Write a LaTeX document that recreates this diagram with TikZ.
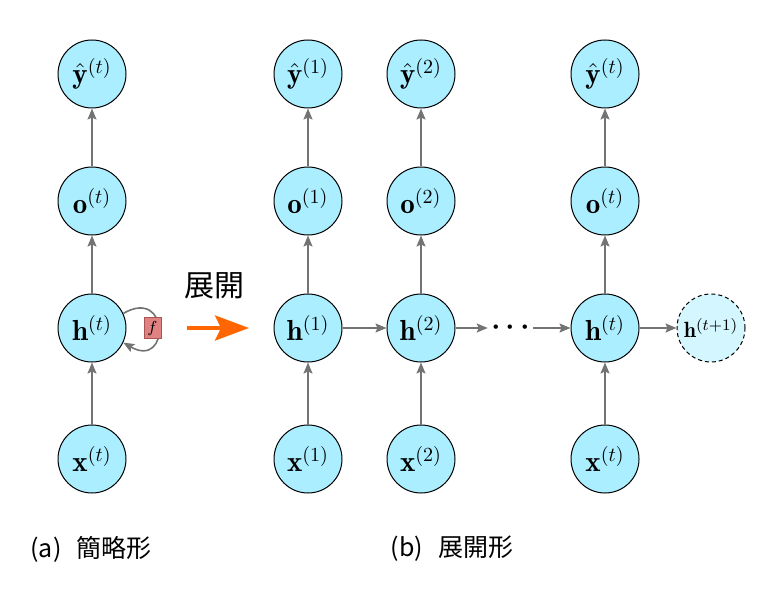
\documentclass[tikz,border=0pt]{standalone}
\usepackage{amsmath,amssymb}
\usepackage{xcolor}
\usepackage{fontspec}
\newfontfamily\jpfont{Noto Sans CJK JP}
\usepackage{tikz}
\usetikzlibrary{arrows.meta, positioning, calc}
\definecolor{cellfill}{RGB}{170, 238, 255}
\definecolor{nextfill}{RGB}{212, 246, 255}
\definecolor{funcfill}{RGB}{224, 130, 130}
\definecolor{funcdraw}{RGB}{170, 85, 85}
\definecolor{connect}{RGB}{115, 115, 115}
\definecolor{unfold}{RGB}{255, 102, 0}

\begin{document}
\begin{tikzpicture}[
    x=0.5pt, y=-0.5pt,
    node distance=29pt,
    cell/.style={circle, draw=black, line width=0.5pt, fill=cellfill, minimum size=34pt, inner sep=0pt, font=\fontsize{14.5}{16}\selectfont},
    next_cell/.style={cell, dash pattern=on 2pt off 1.5pt, fill=nextfill, font=\fontsize{11}{13}\selectfont},
    func_box/.style={rectangle, draw=funcdraw, fill=funcfill, line width=0.4pt, minimum width=8.5pt, minimum height=10.5pt, inner sep=0pt, font=\footnotesize},
    arr/.style={-{Stealth[length=5.5pt, width=4.5pt, inset=1pt]}, line width=0.8pt, color=connect},
    caption/.style={font=\jpfont\fontsize{12.5}{15}\selectfont}
]
    \useasboundingbox (0,0) rectangle (774,609);

    % (a) folded network
    \node[cell] (x0) at (92,459) {$\mathbf{x}^{(t)}$};
    \node[cell, above=31pt of x0] (h0) {$\mathbf{h}^{(t)}$};
    \node[cell, above=of h0] (o0) {$\mathbf{o}^{(t)}$};
    \node[cell, above=of o0] (y0) {$\hat{\mathbf{y}}^{(t)}$};
    \draw[arr] (h0.25) .. controls +(30:27pt) and +(-30:27pt) .. (h0.-25);
    \node[func_box, right=8.5pt of h0] (f) {$f$};

    % unfolding arrow
    \coordinate (unfold_start) at (187,328);
    \coordinate (unfold_end) at (249,328);
    \draw[-{Stealth[length=17pt, width=12.5pt, inset=3pt]}, line width=2pt, color=unfold] (unfold_start) -- (unfold_end);
    \node[font=\jpfont\fontsize{15}{17}\selectfont] (unfold_label) at (214,286) {展開};

    % (b) unfolded network
    \node[cell] (x1) at (308,459) {$\mathbf{x}^{(1)}$};
    \node[cell, right=22pt of x1] (x2) {$\mathbf{x}^{(2)}$};
    \node[cell, right=57.5pt of x2] (x3) {$\mathbf{x}^{(t)}$};
    \node[cell, above=31pt of x1] (h1) {$\mathbf{h}^{(1)}$};
    \node[cell, above=31pt of x2] (h2) {$\mathbf{h}^{(2)}$};
    \node[cell, above=31pt of x3] (h3) {$\mathbf{h}^{(t)}$};
    \node[cell, above=of h1] (o1) {$\mathbf{o}^{(1)}$};
    \node[cell, above=of h2] (o2) {$\mathbf{o}^{(2)}$};
    \node[cell, above=of h3] (o3) {$\mathbf{o}^{(t)}$};
    \node[cell, above=of o1] (y1) {$\hat{\mathbf{y}}^{(1)}$};
    \node[cell, above=of o2] (y2) {$\hat{\mathbf{y}}^{(2)}$};
    \node[cell, above=of o3] (y3) {$\hat{\mathbf{y}}^{(t)}$};
    \node[next_cell, right=18.5pt of h3] (h4) {$\mathbf{h}^{(t+1)}$};
    \node[inner sep=1pt, font=\fontsize{20}{22}\selectfont] (dots) at ($(h2)!0.486!(h3)$) {${\cdot}\hspace{1.5pt}{\cdot}\hspace{1.5pt}{\cdot}$};

    \draw[arr] (x0) -- (h0);
    \draw[arr] (h0) -- (o0);
    \draw[arr] (o0) -- (y0);
    \draw[arr] (x1) -- (h1);
    \draw[arr] (h1) -- (o1);
    \draw[arr] (o1) -- (y1);
    \draw[arr] (x2) -- (h2);
    \draw[arr] (h2) -- (o2);
    \draw[arr] (o2) -- (y2);
    \draw[arr] (x3) -- (h3);
    \draw[arr] (h3) -- (o3);
    \draw[arr] (o3) -- (y3);
    \draw[arr] (h1) -- (h2);
    \draw[arr] (h2) -- (dots);
    \draw[arr] (dots) -- (h3);
    \draw[arr] (h3) -- (h4);

    % captions
    \node[caption] (cap_a) at (91,549) {(a)\hspace{0.6em}簡略形};
    \node[caption] (cap_b) at (452,549) {(b)\hspace{0.6em}展開形};
\end{tikzpicture}
\end{document}
